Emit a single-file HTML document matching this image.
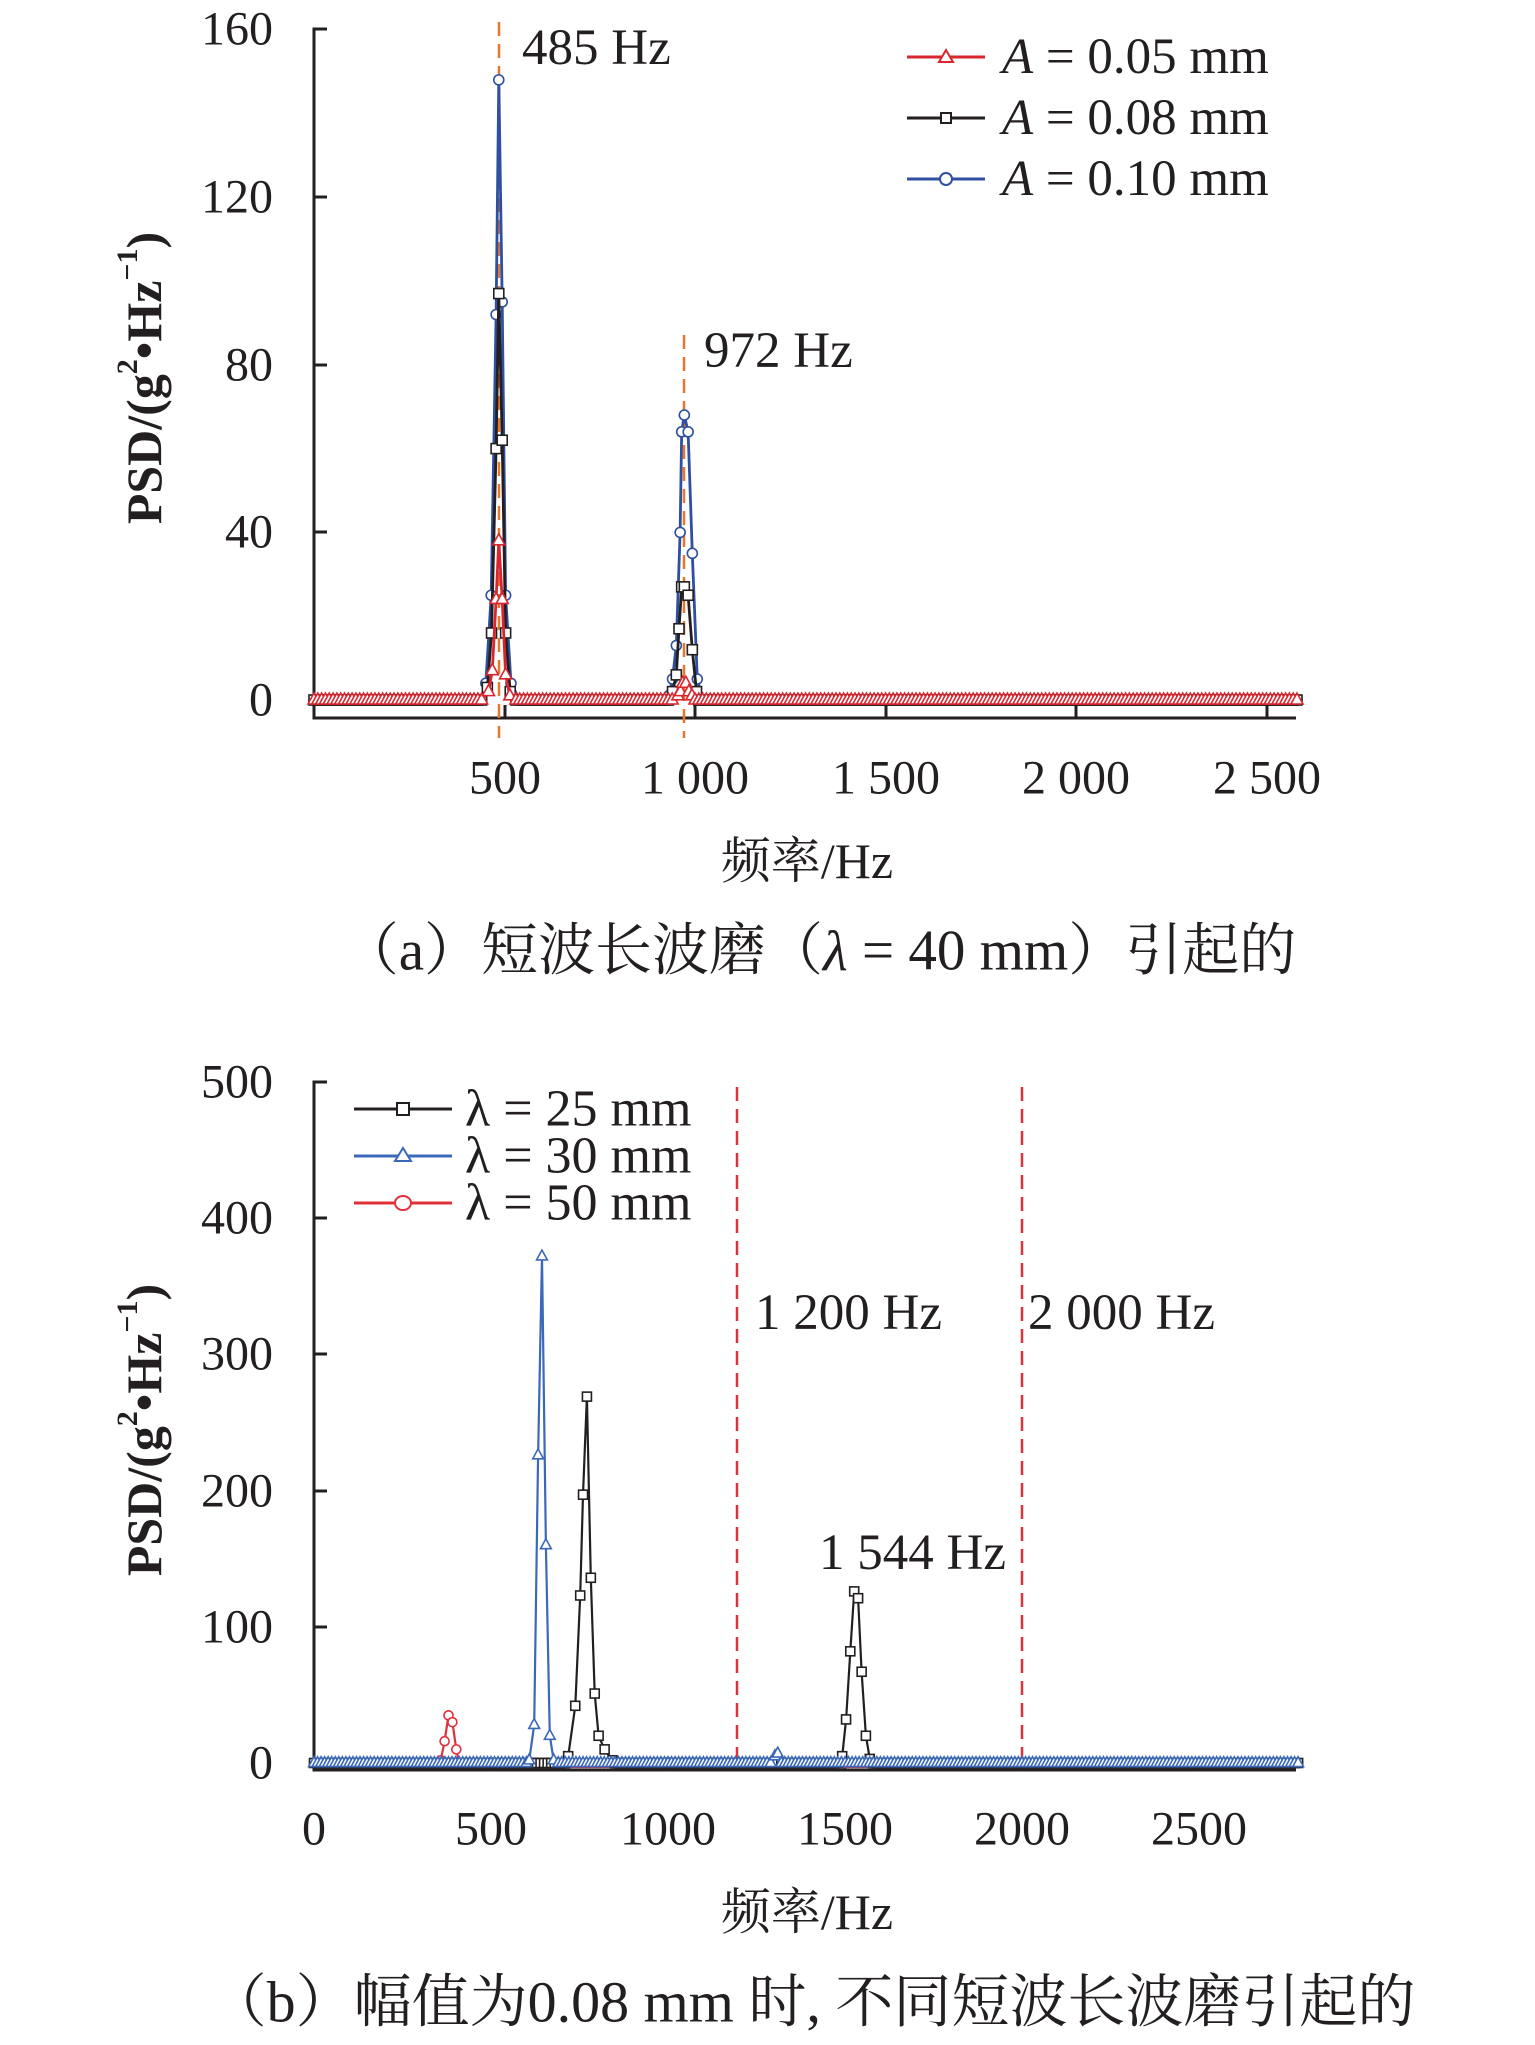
<!DOCTYPE html>
<html><head><meta charset="utf-8">
<style>
html,body{margin:0;padding:0;background:#fff;}
svg{display:block;}
text{font-family:"Liberation Serif","Noto Serif CJK SC","Noto Sans CJK SC",serif;fill:#231f20;}
</style></head>
<body>
<svg id="s" width="1535" height="2045" viewBox="0 0 1535 2045" xmlns="http://www.w3.org/2000/svg">
<g stroke="#231f20" stroke-width="3" fill="none">
<path d="M327 29 H314 V718 H1296"/>
<path d="M314 197 h13 M314 365 h13 M314 532 h13 M314 700 h13"/>
<path d="M505 718 v-13 M695 718 v-13 M886 718 v-13 M1076 718 v-13 M1267 718 v-13"/>
<path d="M327 1082 H314 V1770 H1296"/>
<path d="M314 1218 h13 M314 1354 h13 M314 1491 h13 M314 1627 h13"/>
<path d="M491 1770 v-13 M668 1770 v-13 M845 1770 v-13 M1022 1770 v-13 M1199 1770 v-13"/>
</g>
<g font-size="48" text-anchor="end" dominant-baseline="central">
<text x="273" y="29">160</text><text x="273" y="197">120</text><text x="273" y="365">80</text><text x="273" y="532">40</text><text x="273" y="700">0</text>
<text x="273" y="1082">500</text><text x="273" y="1218">400</text><text x="273" y="1354">300</text><text x="273" y="1491">200</text><text x="273" y="1627">100</text><text x="273" y="1763">0</text>
</g>
<g font-size="48" text-anchor="middle" dominant-baseline="central">
<text x="505" y="778">500</text><text x="695" y="778">1 000</text><text x="886" y="778">1 500</text><text x="1076" y="778">2 000</text><text x="1267" y="778">2 500</text>
<text x="314" y="1829">0</text><text x="491" y="1829">500</text><text x="668" y="1829">1000</text><text x="845" y="1829">1500</text><text x="1022" y="1829">2000</text><text x="1199" y="1829">2500</text>
<text x="807" y="861" font-size="50">频率/Hz</text>
<text x="807" y="1912" font-size="50">频率/Hz</text>
<text x="819" y="951" font-size="57">（a）短波长波磨（<tspan font-style="italic">λ</tspan> = 40 mm）引起的</text>
<text x="812" y="2002" font-size="58">（b）幅值为0.08 mm 时, 不同短波长波磨引起的</text>
</g>
<g font-size="50" font-weight="bold" text-anchor="middle" dominant-baseline="central">
<text transform="translate(144,378) rotate(-90)">PSD/(g<tspan font-size="30" dy="-17">2</tspan><tspan dy="17">•Hz</tspan><tspan font-size="30" dy="-17">−1</tspan><tspan dy="17">)</tspan></text>
<text transform="translate(144,1430) rotate(-90)">PSD/(g<tspan font-size="30" dy="-17">2</tspan><tspan dy="17">•Hz</tspan><tspan font-size="30" dy="-17">−1</tspan><tspan dy="17">)</tspan></text>
</g>
<g stroke-width="2.5" stroke-dasharray="14,8" fill="none">
<path d="M499 22 V738 M684 335 V738" stroke="#e8772e"/>
<path d="M737 1087 V1763 M1022 1087 V1763" stroke="#d9343a"/>
</g>
<g font-size="51" dominant-baseline="central">
<text x="522" y="48">485 Hz</text>
<text x="704" y="351">972 Hz</text>
<text x="755" y="1313">1 200 Hz</text>
<text x="1028" y="1313">2 000 Hz</text>
<text x="819" y="1553">1 544 Hz</text>
</g>
<g id="data"></g>
<g stroke-width="3" fill="#fff">
<path d="M907 57 H985" stroke="#d9262e"/><path d="M946 50 l7 12 h-14 z" stroke="#d9262e" stroke-width="2"/>
<path d="M907 118 H985" stroke="#231f20"/><rect x="941" y="113" width="10" height="10" stroke="#231f20" stroke-width="2"/>
<path d="M907 179 H985" stroke="#2f4fa0"/><circle cx="946" cy="179" r="6" stroke="#2f4fa0" stroke-width="2"/>
</g>
<g font-size="51" dominant-baseline="central">
<text x="1002" y="57"><tspan font-style="italic">A</tspan> = 0.05 mm</text>
<text x="1002" y="118"><tspan font-style="italic">A</tspan> = 0.08 mm</text>
<text x="1002" y="179"><tspan font-style="italic">A</tspan> = 0.10 mm</text>
</g>
<g stroke-width="3" fill="#fff">
<path d="M354 1109 H452" stroke="#231f20"/><rect x="397" y="1103" width="12" height="12" stroke="#231f20" stroke-width="2"/>
<path d="M354 1156 H452" stroke="#3b68b8"/><path d="M403 1148 l8 13 h-16 z" stroke="#3b68b8" stroke-width="2"/>
<path d="M354 1203 H452" stroke="#e0303a"/><ellipse cx="403" cy="1203" rx="8" ry="7" stroke="#e0303a" stroke-width="2"/>
</g>
<g font-size="52" dominant-baseline="central">
<text x="465" y="1109">λ = 25 mm</text>
<text x="465" y="1156">λ = 30 mm</text>
<text x="465" y="1203">λ = 50 mm</text>
</g>
</svg>
<script>
(function(){
var NS="http://www.w3.org/2000/svg",g=document.getElementById("data");
function el(t,a){var e=document.createElementNS(NS,t);for(var k in a)e.setAttribute(k,a[k]);g.appendChild(e);return e;}
function series(o){
 var pts=o.peaks.slice(), f;
 for(f=0;f<=o.fmax;f+=o.step){var inside=false;for(var r=0;r<o.ranges.length;r++){if(f>o.ranges[r][0]&&f<o.ranges[r][1])inside=true;}if(!inside)pts.push([f,0]);}
 pts.sort(function(a,b){return a[0]-b[0];});
 var d="";pts.forEach(function(p,i){var x=o.x0+p[0]*o.sx,y=o.y0-p[1]*o.sy;d+=(i?"L":"M")+x.toFixed(1)+" "+y.toFixed(1);p.x=x;p.y=y;});
 el("path",{d:d,fill:"none",stroke:o.c,"stroke-width":o.lw});
 pts.forEach(function(p){var s=o.ms;
  if(o.m=="t")el("path",{d:"M"+p.x+" "+(p.y-s*0.7)+"l"+(s*0.6)+" "+(s*1.1)+"h"+(-s*1.2)+"z",fill:"#fff",stroke:o.c,"stroke-width":1.6});
  else if(o.m=="s")el("rect",{x:p.x-s/2,y:p.y-s/2,width:s,height:s,fill:"#fff",stroke:o.c,"stroke-width":1.6});
  else el("circle",{cx:p.x,cy:p.y,r:s/2,fill:"#fff",stroke:o.c,"stroke-width":1.6});
 });
}
var A={x0:314,sx:0.381,y0:700,sy:4.19,fmax:2580,step:10,lw:2.8,ms:10};
series(Object.assign({},A,{c:"#2f4fa0",m:"c",ranges:[[440,532],[925,1015]],peaks:[[451,4],[465,25],[478,92],[485,148],[494,95],[503,25],[517,4],[931,1],[941,5],[951,13],[961,40],[965,64],[972,68],[982,64],[993,35],[1006,5]]}));
series(Object.assign({},A,{c:"#231f20",m:"s",ranges:[[445,528],[930,1010]],peaks:[[455,3],[466,16],[478,60],[485,97],[494,62],[503,16],[515,2],[941,2],[951,6],[958,17],[965,27],[972,27],[982,25],[993,12],[1004,2]]}));
series(Object.assign({},A,{c:"#d9262e",m:"t",ranges:[[448,526],[945,1000]],peaks:[[458,2],[468,7],[478,24],[485,38],[494,24],[503,6],[514,1],[955,1],[962,2],[968,4],[976,4],[984,2],[992,1]]}));
var B={x0:314,sx:0.354,y0:1763,sy:1.362,fmax:2780,step:10,lw:2.2,ms:9};
series(Object.assign({},B,{c:"#e0303a",m:"c",ranges:[[352,408]],peaks:[[358,2],[369,16],[380,35],[391,30],[402,10]]}));
series(Object.assign({},B,{c:"#231f20",m:"s",ranges:[[712,850],[1486,1576]],peaks:[[718,5],[738,42],[752,123],[760,197],[771,269],[782,136],[793,51],[804,20],[821,10],[843,2],[1492,5],[1503,32],[1515,82],[1526,126],[1537,121],[1547,67],[1559,20],[1570,3]]}));
series(Object.assign({},B,{c:"#3b68b8",m:"t",ranges:[[602,683],[1296,1318]],peaks:[[608,2],[622,28],[633,226],[644,372],[655,160],[666,20],[677,2],[1302,5],[1310,7]]}));
})();
</script>
</body></html>
